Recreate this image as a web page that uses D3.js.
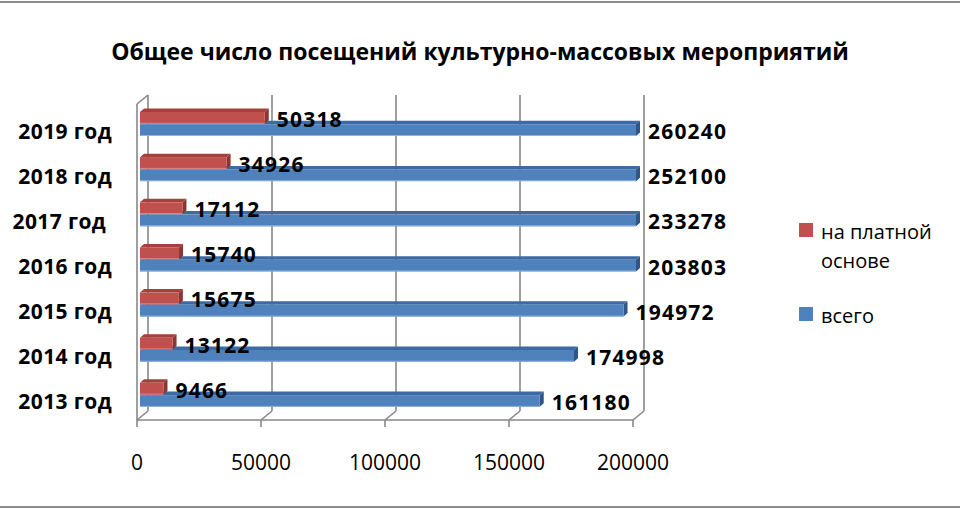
<!DOCTYPE html>
<html>
<head>
<meta charset="utf-8">
<script src="https://d3js.org/d3.v7.min.js"></script>
<style>
  body { margin: 0; background: #fff; }
  text { font-family: "Open Sans", sans-serif; fill: #000; }
  .cat { white-space: pre; }
</style>
</head>
<body>
<div id="chart"></div>
<script>
/**
 * Chart data
 */
// categories, top to bottom
var years = ["2019 год", "2018 год", "2017 год ", "2016 год", "2015 год", "2014 год", "2013 год"];
// paid visits
var paidValues = [50318, 34926, 17112, 15740, 15675, 13122, 9466];
// all visits
var totalValues = [260240, 252100, 233278, 203803, 194972, 174998, 161180];
// legend entries
var seriesNames = ["на платной основе", "всего"];
// x axis ticks
var xTicks = [0, 50000, 100000, 150000, 200000];
var chartTitle = "Общее число посещений культурно-массовых мероприятий";

var svgWidth = 960;
var svgHeight = 510;

// 3D look: offset of back wall against front plane
var depth = {dx: 11, dy: -9};
// offset of bars from front plane and their own depth
var barShift = {dx: 3, dy: -1};
var barDepth = {dx: 4, dy: -3.5};

var colors = [
  {front: "#c0504d", top: "#a5403d", side: "#8c3532", edge: "#d98a88"},
  {front: "#4f81bd", top: "#3c6aa2", side: "#2f5687", edge: "#8fb2de"}
];

var svg = d3.select("#chart")
  .append("svg")
  .attr("width", svgWidth)
  .attr("height", svgHeight);

// frame lines top and bottom
svg.append("line")
  .attr("x1", 0).attr("x2", svgWidth).attr("y1", 2).attr("y2", 2)
  .attr("stroke", "#8c8c8c").attr("stroke-width", 2);
svg.append("line")
  .attr("x1", 0).attr("x2", svgWidth).attr("y1", 507).attr("y2", 507)
  .attr("stroke", "#8c8c8c").attr("stroke-width", 2);

// title
svg.append("text")
  .attr("x", 480)
  .attr("y", 60)
  .attr("text-anchor", "middle")
  .style("font-size", "23px")
  .style("font-weight", "bold")
  .text(chartTitle);

// scales on the front plane
var xScale = d3.scaleLinear()
  .domain([0, 200000])
  .range([137, 633])
  .clamp(true);

var yScale = d3.scaleBand()
  .domain(years)
  .range([104, 420]);

var seriesScale = d3.scaleBand()
  .domain([0, 1])
  .range([9, 33])
  .paddingInner(0.04);

var floorY = yScale.range()[1];
var topY = yScale.range()[0];

var gridColor = "#878787";
var grid = svg.append("g");

// back wall gridlines
grid.selectAll(".vgrid")
  .data(xTicks)
  .enter().append("line")
  .attr("x1", d => xScale(d) + depth.dx)
  .attr("x2", d => xScale(d) + depth.dx)
  .attr("y1", topY + depth.dy)
  .attr("y2", floorY + depth.dy)
  .attr("stroke", gridColor)
  .attr("stroke-width", 1.6);

// floor diagonals
grid.selectAll(".diag")
  .data(xTicks)
  .enter().append("line")
  .attr("x1", d => xScale(d))
  .attr("x2", d => xScale(d) + depth.dx)
  .attr("y1", floorY)
  .attr("y2", floorY + depth.dy)
  .attr("stroke", gridColor)
  .attr("stroke-width", 1.6);

// floor front edge and ticks
grid.append("line")
  .attr("x1", xScale(0)).attr("x2", xScale(200000))
  .attr("y1", floorY).attr("y2", floorY)
  .attr("stroke", gridColor).attr("stroke-width", 1.6);
grid.selectAll(".tick")
  .data(xTicks)
  .enter().append("line")
  .attr("x1", d => xScale(d)).attr("x2", d => xScale(d))
  .attr("y1", floorY).attr("y2", floorY + 7)
  .attr("stroke", gridColor).attr("stroke-width", 1.6);

// left wall front edge and top
grid.append("line")
  .attr("x1", xScale(0)).attr("x2", xScale(0))
  .attr("y1", topY).attr("y2", floorY)
  .attr("stroke", gridColor).attr("stroke-width", 1.6);
grid.append("line")
  .attr("x1", xScale(0)).attr("x2", xScale(0) + depth.dx)
  .attr("y1", topY).attr("y2", topY + depth.dy)
  .attr("stroke", gridColor).attr("stroke-width", 1.6);

// tick labels
svg.selectAll(".xlabel")
  .data(xTicks)
  .enter().append("text")
  .attr("x", d => xScale(d))
  .attr("y", 462)
  .attr("text-anchor", "middle")
  .attr("dominant-baseline", "central")
  .style("font-size", "21px")
  .text(d => d);

// category labels
svg.selectAll(".cat")
  .data(years)
  .enter().append("text")
  .attr("class", "cat")
  .attr("x", 112)
  .attr("y", d => yScale(d) + yScale.bandwidth() / 2 + 4)
  .attr("text-anchor", "end")
  .attr("dominant-baseline", "central")
  .style("font-size", "21px")
  .style("font-weight", "bold")
  .style("letter-spacing", "0.4px")
  .text(d => d);

// build bar records, blue first so red sits on top of it
var bars = [];
years.forEach((year, i) => {
  bars.push({year: year, s: 1, value: totalValues[i]});
  bars.push({year: year, s: 0, value: paidValues[i]});
});

function barBox(d) {
  var x0 = xScale(0) + barShift.dx;
  var x1 = xScale(d.value) + barShift.dx;
  var y0 = yScale(d.year) + seriesScale(d.s) + barShift.dy;
  var y1 = y0 + seriesScale.bandwidth();
  return {x0: x0, x1: x1, y0: y0, y1: y1};
}

var barGroup = svg.append("g");
bars.forEach(d => {
  var b = barBox(d);
  var c = colors[d.s];
  var g = barGroup.append("g");
  // top face
  g.append("path")
    .attr("d", `M${b.x0},${b.y0}L${b.x0 + barDepth.dx},${b.y0 + barDepth.dy}L${b.x1 + barDepth.dx},${b.y0 + barDepth.dy}L${b.x1},${b.y0}Z`)
    .attr("fill", c.top);
  // end face
  g.append("path")
    .attr("d", `M${b.x1},${b.y0}L${b.x1 + barDepth.dx},${b.y0 + barDepth.dy}L${b.x1 + barDepth.dx},${b.y1 + barDepth.dy}L${b.x1},${b.y1}Z`)
    .attr("fill", c.side);
  // front face
  g.append("rect")
    .attr("x", b.x0)
    .attr("y", b.y0)
    .attr("width", b.x1 - b.x0)
    .attr("height", b.y1 - b.y0)
    .attr("fill", c.front);
  // light lower edge
  g.append("line")
    .attr("x1", b.x0).attr("x2", b.x1)
    .attr("y1", b.y1 - 0.5).attr("y2", b.y1 - 0.5)
    .attr("stroke", c.edge).attr("stroke-width", 1);
});

// value labels
svg.selectAll(".value")
  .data(bars)
  .enter().append("text")
  .attr("x", d => barBox(d).x1 + 12)
  .attr("y", d => (barBox(d).y0 + barBox(d).y1) / 2 + 1)
  .attr("dominant-baseline", "central")
  .style("font-size", "21px")
  .style("font-weight", "bold")
  .style("letter-spacing", "1.2px")
  .text(d => d.value);

// legend
var legend = svg.append("g");
var legendRows = [
  {s: 0, y: 223, lines: ["на платной", "основе"]},
  {s: 1, y: 307, lines: [seriesNames[1]]}
];
legendRows.forEach(row => {
  legend.append("rect")
    .attr("x", 799)
    .attr("y", row.y)
    .attr("width", 14)
    .attr("height", 14)
    .attr("fill", colors[row.s].front);
  row.lines.forEach((line, k) => {
    legend.append("text")
      .attr("x", 821)
      .attr("y", row.y + 8 + k * 29)
      .attr("dominant-baseline", "central")
      .style("font-size", "20px")
      .text(line);
  });
});
</script>
</body>
</html>
